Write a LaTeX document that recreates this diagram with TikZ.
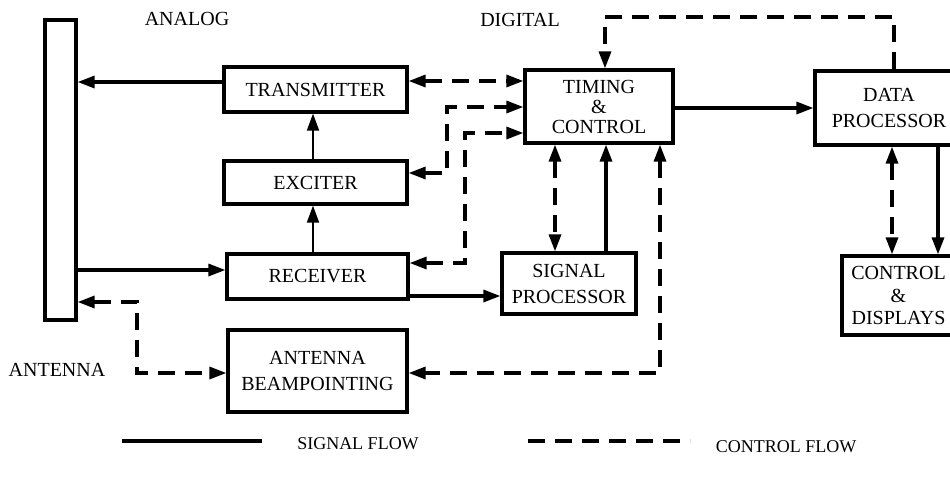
\documentclass[tikz,border=0pt]{standalone}
\usepackage{fontspec}
\setmainfont{Liberation Serif}
\usetikzlibrary{arrows.meta}

\tikzset{
  blk/.style={draw, line width=3.2pt, align=center, inner sep=2pt, font=\fontsize{20}{26}\selectfont},
  tightblk/.style={blk, font=\fontsize{20}{20}\selectfont},
  lbl/.style={font=\fontsize{20}{24}\selectfont},
  legendlbl/.style={font=\fontsize{18}{22}\selectfont},
  sigline/.style={line width=3.2pt},
  thinline/.style={line width=1.8pt},
  ctlline/.style={line width=3.2pt, dash pattern=on 17pt off 10pt},
}

\begin{document}
\begin{tikzpicture}[x=1pt, y=-1pt, >={Triangle[length=17pt,width=12pt]}]
    \useasboundingbox (0,0) rectangle (950,485);

    % Blocks
    \node[blk, minimum width=31pt, minimum height=300pt] (ant) at (60.5,170) {};
    \node[blk, minimum width=183pt, minimum height=45pt] (trans) at (315.5,89.5) {TRANSMITTER};
    \node[blk, minimum width=183pt, minimum height=43pt] (exc) at (315.5,182.5) {EXCITER};
    \node[blk, minimum width=181pt, minimum height=45pt] (rec) at (317.5,276.5) {RECEIVER};
    \node[blk, minimum width=179pt, minimum height=82pt] (beam) at (317.5,371) {ANTENNA\\BEAMPOINTING};
    \node[tightblk, minimum width=148pt, minimum height=73pt] (tim) at (599,106.5) {TIMING\\\&\\CONTROL};
    \node[blk, minimum width=134pt, minimum height=61pt] (sp) at (569,283.5) {SIGNAL\\PROCESSOR};
    \node[blk, minimum width=148pt, minimum height=74pt] (dp) at (889,108) {DATA\\PROCESSOR};
    \node[tightblk, minimum width=113pt, minimum height=79pt, font=\fontsize{20}{22.5}\selectfont] (ctl) at (898.5,295.5) {CONTROL\\\&\\DISPLAYS};

    % Labels
    \node[lbl] (analog) at (187,19) {ANALOG};
    \node[lbl] (digital) at (520,20) {DIGITAL};
    \node[lbl] (antlbl) at (57,370) {ANTENNA};

    % Signal flow
    \draw[sigline,->] (trans.west |- 0,82) -- (ant.east |- 0,82);
    \draw[sigline,->] (ant.east |- 0,270) -- (rec.west |- 0,270);
    \draw[thinline,->] (exc.north -| 313,0) -- (trans.south -| 313,0);
    \draw[thinline,->] (rec.north -| 313,0) -- (exc.south -| 313,0);
    \draw[sigline,->] (rec.east |- 0,296) -- (sp.west |- 0,296);
    \draw[sigline,->] (sp.north -| 606,0) -- (tim.south -| 606,0);
    \draw[sigline,->] (tim.east |- 0,108) -- (dp.west |- 0,108);
    \draw[sigline,->] (dp.south -| 938,0) -- (ctl.north -| 938,0);

    % Control flow
    \draw[ctlline,<->] (trans.east |- 0,81) -- (tim.west |- 0,81);
    \draw[ctlline,<->] (exc.east |- 0,173) -| (447,107) -- (tim.west |- 0,107);
    \draw[ctlline,<->] (rec.east |- 0,263) -| (465,133) -- (tim.west |- 0,133);
    \draw[ctlline,<->] (tim.south -| 555,0) -- (sp.north -| 555,0);
    \draw[ctlline,<->] (tim.south -| 660,0) |- (beam.east |- 0,373);
    \draw[ctlline,<->] (ant.east |- 0,302) -| (137,373) -- (beam.west |- 0,373);
    \draw[ctlline,->] (dp.north -| 894,0) |- (605,17) -- (tim.north -| 605,0);
    \draw[ctlline,<->] (dp.south -| 892,0) -- (ctl.north -| 892,0);

    % Legend
    \coordinate (sigA) at (122,441);
    \coordinate (sigB) at (262,441);
    \draw[sigline] (sigA) -- (sigB);
    \node[legendlbl] (siglbl) at (358,444) {SIGNAL FLOW};
    \coordinate (ctlA) at (528,441);
    \coordinate (ctlB) at (690,441);
    \draw[ctlline] (ctlA) -- (ctlB);
    \node[legendlbl] (ctllbl) at (786,447) {CONTROL FLOW};
\end{tikzpicture}
\end{document}
